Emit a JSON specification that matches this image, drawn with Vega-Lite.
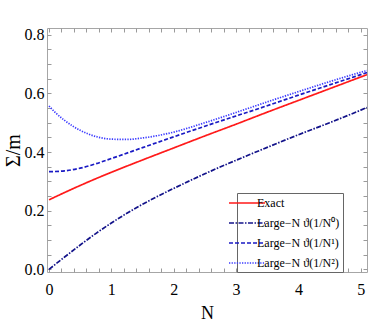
{
  "$schema": "https://vega.github.io/schema/vega-lite/v6.json",
  "width": 320,
  "height": 244,
  "autosize": "none",
  "padding": {"left": 47, "top": 28, "right": 1, "bottom": 55},
  "background": "white",
  "config": {
    "view": {"stroke": "#a6a6a6", "strokeWidth": 1},
    "font": "'Liberation Serif', serif",
    "axis": {
      "grid": false,
      "domain": false,
      "ticks": true,
      "tickColor": "#9a9a9a",
      "tickSize": 4,
      "offset": -4,
      "labelFont": "'Liberation Serif', serif",
      "labelFontSize": 16,
      "labelColor": "black",
      "titleFont": "'Liberation Serif', serif",
      "titleFontWeight": "normal",
      "titleColor": "black"
    },
    "legend": {"labelFont": "'Liberation Serif', serif"}
  },
  "datasets": {
    "curves": [
      {"N": 0, "value": 0.237, "series": "Exact"},
      {"N": 0.25, "value": 0.262, "series": "Exact"},
      {"N": 0.5, "value": 0.286, "series": "Exact"},
      {"N": 0.75, "value": 0.309, "series": "Exact"},
      {"N": 1, "value": 0.331, "series": "Exact"},
      {"N": 1.5, "value": 0.373, "series": "Exact"},
      {"N": 2, "value": 0.414, "series": "Exact"},
      {"N": 2.5, "value": 0.455, "series": "Exact"},
      {"N": 3, "value": 0.495, "series": "Exact"},
      {"N": 3.5, "value": 0.536, "series": "Exact"},
      {"N": 4, "value": 0.576, "series": "Exact"},
      {"N": 4.5, "value": 0.616, "series": "Exact"},
      {"N": 5, "value": 0.656, "series": "Exact"},
      {"N": 5.1, "value": 0.664, "series": "Exact"},
      {"N": 0, "value": 0.0, "series": "Large−N ϑ(1/N⁰)"},
      {"N": 0.25, "value": 0.042, "series": "Large−N ϑ(1/N⁰)"},
      {"N": 0.5, "value": 0.083, "series": "Large−N ϑ(1/N⁰)"},
      {"N": 0.75, "value": 0.122, "series": "Large−N ϑ(1/N⁰)"},
      {"N": 1, "value": 0.158, "series": "Large−N ϑ(1/N⁰)"},
      {"N": 1.5, "value": 0.222, "series": "Large−N ϑ(1/N⁰)"},
      {"N": 2, "value": 0.276, "series": "Large−N ϑ(1/N⁰)"},
      {"N": 2.5, "value": 0.326, "series": "Large−N ϑ(1/N⁰)"},
      {"N": 3, "value": 0.372, "series": "Large−N ϑ(1/N⁰)"},
      {"N": 3.5, "value": 0.416, "series": "Large−N ϑ(1/N⁰)"},
      {"N": 4, "value": 0.459, "series": "Large−N ϑ(1/N⁰)"},
      {"N": 4.5, "value": 0.5, "series": "Large−N ϑ(1/N⁰)"},
      {"N": 5, "value": 0.543, "series": "Large−N ϑ(1/N⁰)"},
      {"N": 5.1, "value": 0.552, "series": "Large−N ϑ(1/N⁰)"},
      {"N": 0, "value": 0.333, "series": "Large−N ϑ(1/N¹)"},
      {"N": 0.25, "value": 0.336, "series": "Large−N ϑ(1/N¹)"},
      {"N": 0.5, "value": 0.345, "series": "Large−N ϑ(1/N¹)"},
      {"N": 0.75, "value": 0.36, "series": "Large−N ϑ(1/N¹)"},
      {"N": 1, "value": 0.378, "series": "Large−N ϑ(1/N¹)"},
      {"N": 1.5, "value": 0.415, "series": "Large−N ϑ(1/N¹)"},
      {"N": 2, "value": 0.452, "series": "Large−N ϑ(1/N¹)"},
      {"N": 2.5, "value": 0.488, "series": "Large−N ϑ(1/N¹)"},
      {"N": 3, "value": 0.523, "series": "Large−N ϑ(1/N¹)"},
      {"N": 3.5, "value": 0.558, "series": "Large−N ϑ(1/N¹)"},
      {"N": 4, "value": 0.594, "series": "Large−N ϑ(1/N¹)"},
      {"N": 4.5, "value": 0.629, "series": "Large−N ϑ(1/N¹)"},
      {"N": 5, "value": 0.664, "series": "Large−N ϑ(1/N¹)"},
      {"N": 5.1, "value": 0.671, "series": "Large−N ϑ(1/N¹)"},
      {"N": 0, "value": 0.557, "series": "Large−N ϑ(1/N²)"},
      {"N": 0.1, "value": 0.535, "series": "Large−N ϑ(1/N²)"},
      {"N": 0.25, "value": 0.508, "series": "Large−N ϑ(1/N²)"},
      {"N": 0.5, "value": 0.474, "series": "Large−N ϑ(1/N²)"},
      {"N": 0.75, "value": 0.453, "series": "Large−N ϑ(1/N²)"},
      {"N": 1, "value": 0.444, "series": "Large−N ϑ(1/N²)"},
      {"N": 1.25, "value": 0.443, "series": "Large−N ϑ(1/N²)"},
      {"N": 1.5, "value": 0.448, "series": "Large−N ϑ(1/N²)"},
      {"N": 2, "value": 0.468, "series": "Large−N ϑ(1/N²)"},
      {"N": 2.5, "value": 0.5, "series": "Large−N ϑ(1/N²)"},
      {"N": 3, "value": 0.535, "series": "Large−N ϑ(1/N²)"},
      {"N": 3.5, "value": 0.571, "series": "Large−N ϑ(1/N²)"},
      {"N": 4, "value": 0.606, "series": "Large−N ϑ(1/N²)"},
      {"N": 4.5, "value": 0.64, "series": "Large−N ϑ(1/N²)"},
      {"N": 5, "value": 0.672, "series": "Large−N ϑ(1/N²)"},
      {"N": 5.1, "value": 0.678, "series": "Large−N ϑ(1/N²)"}
    ]
  },
  "data": {"name": "curves"},
  "layer": [
    {
      "mark": {"type": "line", "interpolate": "monotone", "strokeWidth": 1.7, "clip": true},
      "encoding": {
        "x": {
          "field": "N", "type": "quantitative",
          "scale": {"domain": [-0.032, 5.1], "nice": false, "zero": false},
          "axis": {
            "orient": "bottom",
            "title": "N",
            "titleFontSize": 18,
            "titlePadding": 7,
            "values": [0,0.2,0.4,0.6,0.8,1,1.2,1.4,1.6,1.8,2,2.2,2.4,2.6,2.8,3,3.2,3.4,3.6,3.8,4,4.2,4.4,4.6,4.8,5],
            "labelExpr": "abs(datum.value - round(datum.value)) < 0.001 ? format(datum.value, 'd') : ''",
            "labelPadding": 9,
            "labelOverlap": false
          }
        },
        "y": {
          "field": "value", "type": "quantitative",
          "scale": {"domain": [-0.009, 0.823], "nice": false, "zero": false},
          "axis": {
            "orient": "left",
            "title": "Σ/m",
            "titleFontSize": 20,
            "titleX": -28,
            "values": [0,0.05,0.1,0.15,0.2,0.25,0.3,0.35,0.4,0.45,0.5,0.55,0.6,0.65,0.7,0.75,0.8],
            "labelExpr": "abs(datum.value*5 - round(datum.value*5)) < 0.001 ? format(datum.value, '.1f') : ''",
            "labelPadding": 3,
            "labelOverlap": false
          }
        },
        "color": {
          "field": "series", "type": "nominal",
          "scale": {
            "domain": ["Exact", "Large−N ϑ(1/N⁰)", "Large−N ϑ(1/N¹)", "Large−N ϑ(1/N²)"],
            "range": ["#ff1a1a", "#13138a", "#1a1ac4", "#3a3aff"]
          },
          "legend": {
            "orient": "none",
            "legendX": 190,
            "legendY": 165,
            "title": null,
            "direction": "vertical",
            "symbolType": "M-3,0L3,0",
            "symbolSize": 144,
            "symbolStrokeWidth": 1.7,
            "labelFontSize": 12,
            "labelColor": "black",
            "labelLimit": 200,
            "labelOffset": 3,
            "rowPadding": 7,
            "padding": 3,
            "strokeColor": "#666666",
            "fillColor": "white"
          }
        },
        "strokeDash": {
          "field": "series", "type": "nominal",
          "scale": {
            "domain": ["Exact", "Large−N ϑ(1/N⁰)", "Large−N ϑ(1/N¹)", "Large−N ϑ(1/N²)"],
            "range": [[1, 0], [5, 1.5, 1.5, 1.5], [4, 2], [1.3, 1.3]]
          }
        }
      }
    },
    {
      "mark": {"type": "line", "opacity": 0},
      "encoding": {
        "x": {
          "field": "N", "type": "quantitative",
          "axis": {
            "orient": "top", "title": null, "labels": false,
            "values": [0,0.2,0.4,0.6,0.8,1,1.2,1.4,1.6,1.8,2,2.2,2.4,2.6,2.8,3,3.2,3.4,3.6,3.8,4,4.2,4.4,4.6,4.8,5]
          }
        },
        "y": {
          "field": "value", "type": "quantitative",
          "axis": {
            "orient": "right", "title": null, "labels": false,
            "values": [0,0.05,0.1,0.15,0.2,0.25,0.3,0.35,0.4,0.45,0.5,0.55,0.6,0.65,0.7,0.75,0.8]
          }
        },
        "detail": {"field": "series", "type": "nominal"}
      }
    }
  ],
  "resolve": {"axis": {"x": "independent", "y": "independent"}}
}
